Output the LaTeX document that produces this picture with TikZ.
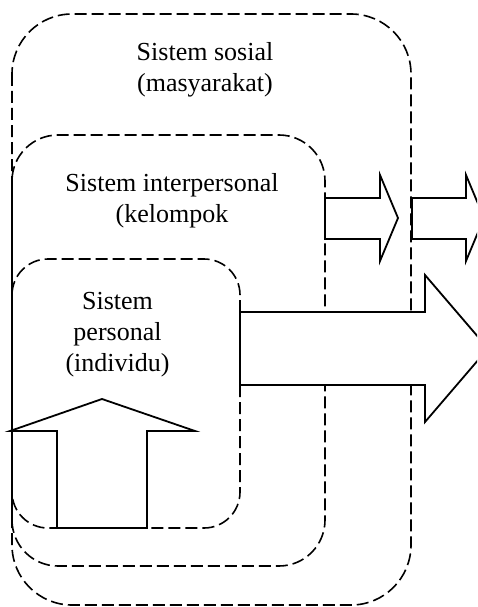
\documentclass[tikz,border=0pt]{standalone}
\usepackage{fontspec}
\setmainfont{Liberation Serif}
\begin{document}
\begin{tikzpicture}[x=1pt,y=-1pt,
  sysbox/.style={draw=black, line width=1.6pt, dash pattern=on 12pt off 5pt},
  blockarrow/.style={draw=black, fill=white, line width=1.8pt, line join=miter},
  lbl/.style={anchor=base, inner sep=0pt, font=\fontsize{26}{31}\selectfont}]
\path[use as bounding box, clip] (0,0) rectangle (477,607);
% system boxes
\draw[sysbox, rounded corners=60pt] (12,14) rectangle (411,605);
\draw[sysbox, rounded corners=46pt] (12,135) rectangle (325,566);
\draw[sysbox, rounded corners=36pt] (12,259) rectangle (240,528);
% labels
\node[lbl] (sos1) at (205,61) {Sistem sosial};
\node[lbl] (sos2) at (205,92) {(masyarakat)};
\node[lbl] (int1) at (172,191) {Sistem interpersonal};
\node[lbl] (int2) at (172,222) {(kelompok};
\node[lbl] (per1) at (117.5,309) {Sistem};
\node[lbl] (per2) at (117.5,340) {personal};
\node[lbl] (per3) at (117.5,371) {(individu)};
% block arrows
\draw[blockarrow] (325,198) -- (380,198) -- (380,175) -- (398,218) -- (380,261) -- (380,239) -- (325,239) -- cycle;
\draw[blockarrow] (412,198) -- (466,198) -- (466,175) -- (484,218) -- (466,261) -- (466,239) -- (412,239) -- cycle;
\draw[blockarrow] (240,312) -- (425,312) -- (425,275) -- (488,348.5) -- (425,422) -- (425,385) -- (240,385) -- cycle;
\draw[blockarrow] (57,528) -- (57,431) -- (10,431) -- (102,399) -- (195,431) -- (147,431) -- (147,528) -- cycle;
\end{tikzpicture}
\end{document}
